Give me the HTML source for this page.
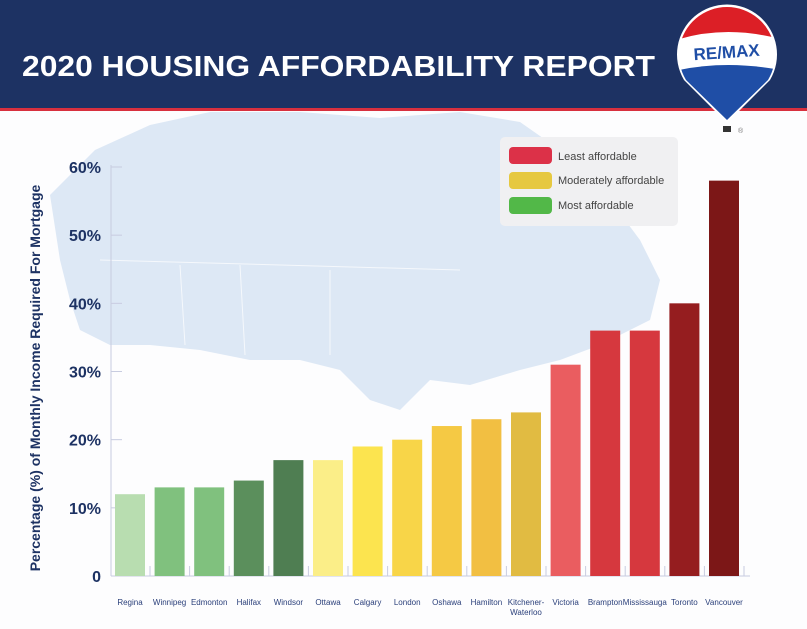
<!DOCTYPE html>
<html><head><meta charset="utf-8"><style>
html,body{margin:0;padding:0;width:807px;height:629px;overflow:hidden;background:#fff;font-family:"Liberation Sans",sans-serif}
</style></head><body>
<svg width="807" height="629" viewBox="0 0 807 629" xmlns="http://www.w3.org/2000/svg">
<defs><clipPath id="bal"><path d="M727,120 L686,80 A48,48 0 1 1 768,80 Z"/></clipPath></defs>
<rect width="807" height="629" fill="#fdfdfe"/>
<path fill="#dde8f5" d="M50,195 L95,150 L150,125 L210,112 L300,112 L380,118 L460,112 L520,122 L560,150 L610,200 L640,240 L660,280 L650,320 L600,345 L560,360 L520,370 L470,385 L430,380 L400,410 L370,400 L340,370 L300,360 L250,360 L200,350 L150,345 L110,345 L80,330 L70,300 L60,260 Z"/>
<path d="M100,260 L460,270 M180,265 L185,345 M240,265 L245,355 M330,270 L330,355" stroke="#fff" stroke-width="1" fill="none" opacity="0.7"/>
<rect x="0" y="0" width="807" height="108" fill="#1d3263"/>
<rect x="0" y="108" width="807" height="3" fill="#d8303e"/>
<text x="22" y="76" fill="#fff" font-size="29" font-weight="bold" textLength="633" lengthAdjust="spacingAndGlyphs">2020 HOUSING AFFORDABILITY REPORT</text>
<g>
<path d="M727,123 L684,80 A50,50 0 1 1 770,80 Z" fill="#fff"/>
<g clip-path="url(#bal)">
<rect x="670" y="0" width="120" height="130" fill="#fff"/>
<path d="M670,0 H790 V42 Q727,22 670,42 Z" fill="#dc1f26"/>
<path d="M670,72 Q727,58 790,72 V130 H670 Z" fill="#1f4ea6"/>
</g>
<text x="727" y="58" text-anchor="middle" font-size="17" font-weight="bold" fill="#1f4ea6" transform="rotate(-4 727 58)">RE/MAX</text>
<rect x="723" y="126" width="8" height="6" fill="#333"/>
<text x="738" y="133" font-size="7" fill="#777">®</text>
</g>
<g>
<rect x="500" y="137" width="178" height="89" rx="5" fill="#f0f0f2"/>
<rect x="509" y="147" width="43" height="17" rx="4" fill="#dc3148"/>
<text x="558" y="160" font-size="11" fill="#444">Least affordable</text>
<rect x="509" y="172" width="43" height="17" rx="4" fill="#e6c840"/>
<text x="558" y="184" font-size="11" fill="#444">Moderately affordable</text>
<rect x="509" y="197" width="43" height="17" rx="4" fill="#52b848"/>
<text x="558" y="209" font-size="11" fill="#444">Most affordable</text>
</g>
<text transform="translate(40,378) rotate(-90)" text-anchor="middle" font-size="14" font-weight="bold" fill="#1d3263">Percentage (%) of Monthly Income Required For Mortgage</text>
<g id="axes"></g>
<g id="bars"></g>
</svg>
<script>
const categories=["Regina","Winnipeg","Edmonton","Halifax","Windsor","Ottawa","Calgary","London","Oshawa","Hamilton","Kitchener-|Waterloo","Victoria","Brampton","Mississauga","Toronto","Vancouver"];
const values=[12,13,13,14,17,17,19,20,22,23,24,31,36,36,40,58];
const colors=["#b8ddb0","#80c17e","#80c17e","#5b8f5c","#4f7e52","#fbee88","#fce44f","#f8d548","#f5c944","#f2bf42","#e1bb42","#ea5d60","#d6383e","#d6383e","#951d1f","#7c1717"];
const yTicks=[0,10,20,30,40,50,60];
const yTickLabels=["0","10%","20%","30%","40%","50%","60%"];
const NS="http://www.w3.org/2000/svg";
const y0=576,y60=167,x0=115,step=39.6,bw=30;
function yScale(v){return y0-(y0-y60)*v/60;}
function xScale(i){return x0+i*step;}
function mk(t,a,p){const e=document.createElementNS(NS,t);for(const k in a)e.setAttribute(k,a[k]);p.appendChild(e);return e;}
const ax=document.getElementById('axes'),bars=document.getElementById('bars');
const yl=mk('line',{x1:111,y1:y60-2,x2:111,y2:y0,stroke:'#c8cce0','stroke-width':1},ax);


const xl=mk('line',{x1:111,y1:y0,x2:750,y2:y0,stroke:'#c8cce0','stroke-width':1},ax);


yTicks.forEach((v,i)=>{
 const y=yScale(v);
 mk('line',{x1:111,y1:y,x2:122,y2:y,stroke:'#c8cce0'},ax);
 const t=mk('text',{x:101,y:y+6,'text-anchor':'end','font-size':16,'font-weight':'bold',fill:'#1d3263'},ax);
 t.textContent=yTickLabels[i];
 
 
});
categories.forEach((c,i)=>{
 const x=xScale(i);
 const r=mk('rect',{x:x,y:yScale(values[i]),width:bw,height:y0-yScale(values[i]),fill:colors[i]},bars);
 
 
 mk('line',{x1:x+bw+5,y1:y0-10,x2:x+bw+5,y2:y0,stroke:'#c8cce0'},ax);
 const parts=c.split('|');
 parts.forEach((p,j)=>{
  const t=mk('text',{x:x+bw/2,y:605+j*10,'text-anchor':'middle','font-size':8,fill:'#2a3f7a'},ax);
  t.textContent=p;
  
  
 });
});
</script>
</body></html>
